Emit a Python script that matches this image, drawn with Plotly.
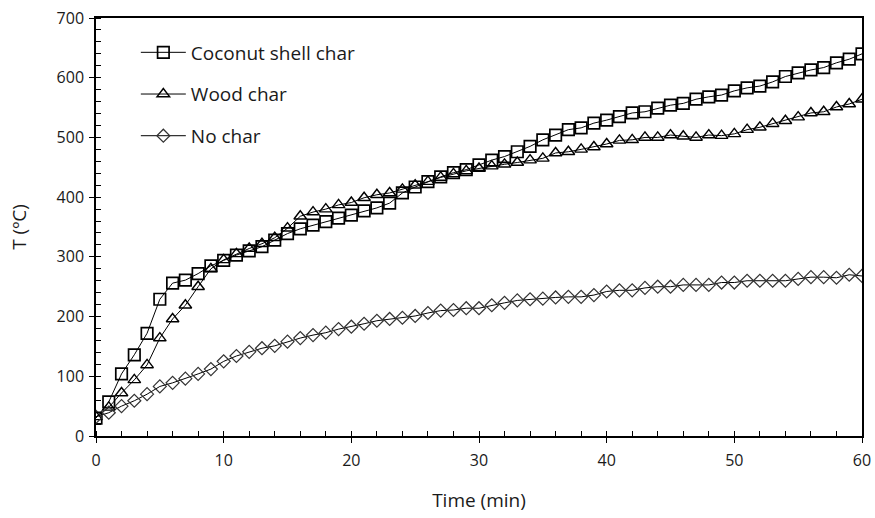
import plotly.graph_objects as go

time_min = list(range(0, 61))

coconut_shell = [30, 57, 104, 136, 172, 229, 256, 261, 272, 285,
                 294, 303, 310, 317, 328, 339, 347, 353, 359, 365,
                 370, 377, 382, 390, 407, 417, 426, 434, 441, 446,
                 454, 462, 468, 476, 485, 496, 504, 513, 516, 524,
                 529, 535, 541, 543, 549, 554, 557, 564, 568, 571,
                 578, 583, 586, 593, 602, 608, 613, 617, 625, 631,
                 640]

wood = [32, 48, 72, 94, 119, 164, 196, 219, 250, 280,
        295, 305, 314, 322, 332, 348, 368, 375, 380, 387,
        391, 399, 404, 407, 413, 420, 426, 433, 439, 444,
        448, 452, 455, 458, 462, 465, 474, 476, 480, 484,
        489, 495, 496, 500, 500, 504, 502, 500, 504, 503,
        506, 513, 517, 523, 528, 534, 541, 543, 551, 556,
        564]

no_char = [32, 39, 50, 59, 70, 83, 89, 96, 104, 112,
           125, 134, 141, 147, 151, 158, 164, 169, 173, 179,
           183, 188, 193, 196, 198, 201, 206, 210, 211, 214,
           214, 219, 223, 227, 229, 230, 232, 233, 233, 236,
           242, 244, 244, 248, 250, 250, 253, 253, 253, 257,
           257, 260, 260, 260, 260, 263, 266, 266, 265, 270,
           268]

series_names = ["Coconut shell char", "Wood char", "No char"]

FONT = "Open Sans"
TXT = "#1a1a1a"

fig = go.Figure()
fig.add_trace(go.Scatter(
    x=time_min, y=coconut_shell, name=series_names[0], mode="lines+markers",
    line=dict(color="black", width=1),
    marker=dict(symbol="square-open", size=11.5, color="black", line=dict(width=1.7, color="black")),
    legendgroup="a"))
fig.add_trace(go.Scatter(
    x=time_min, y=wood, name=series_names[1], mode="lines+markers",
    line=dict(color="black", width=1),
    marker=dict(symbol="triangle-up-open", size=11, color="black", line=dict(width=1.4, color="black")),
    legendgroup="b"))
fig.add_trace(go.Scatter(
    x=time_min, y=no_char, name=series_names[2], mode="lines+markers",
    line=dict(color="black", width=1),
    marker=dict(symbol="diamond-open", size=10, color="#333333", line=dict(width=1.2, color="#333333")),
    legendgroup="c"))
# helper trace for overlay axes (inner half of major ticks)
fig.add_trace(go.Scatter(x=[], y=[], xaxis="x2", yaxis="y2", showlegend=False, hoverinfo="skip"))

axis_common = dict(
    showgrid=False, zeroline=False, showline=True, linecolor="black", linewidth=1.5,
    mirror=True, ticks="outside", ticklen=5, tickcolor="black", tickwidth=1,
    tickfont=dict(family=FONT, size=16, color=TXT), automargin=False,
)

fig.update_layout(
    width=875, height=518,
    margin=dict(l=96, r=13, t=18, b=82),
    paper_bgcolor="white", plot_bgcolor="white",
    font=dict(family=FONT, size=16, color=TXT),
    xaxis=dict(range=[0, 60], dtick=10, tick0=0,
               minor=dict(dtick=2, ticks="inside", ticklen=5, tickcolor="black"),
               ticklabelstandoff=4,
               title=dict(text="Time (min)", font=dict(family=FONT, size=19, color=TXT), standoff=24),
               **axis_common),
    yaxis=dict(range=[0, 700], dtick=100, tick0=0,
               minor=dict(dtick=20, ticks="inside", ticklen=5, tickcolor="black"),
               ticklabelstandoff=2,
               title=dict(text="T (ºC)", font=dict(family=FONT, size=19, color=TXT), standoff=25),
               **axis_common),
    xaxis2=dict(overlaying="x", range=[0, 60], dtick=10, tick0=0, ticks="inside", ticklen=5,
                tickcolor="black", showticklabels=False, showgrid=False, zeroline=False,
                showline=False, anchor="y2", side="bottom"),
    yaxis2=dict(overlaying="y", range=[0, 700], dtick=100, tick0=0, ticks="inside", ticklen=5,
                tickcolor="black", showticklabels=False, showgrid=False, zeroline=False,
                showline=False, anchor="x2", side="left"),
    legend=dict(x=0.052, y=0.963, xanchor="left", yanchor="top",
                bgcolor="rgba(255,255,255,0)", traceorder="grouped", tracegroupgap=14,
                font=dict(family=FONT, size=19, color=TXT), itemwidth=45),
    showlegend=True,
)

fig.write_html("out.html")
